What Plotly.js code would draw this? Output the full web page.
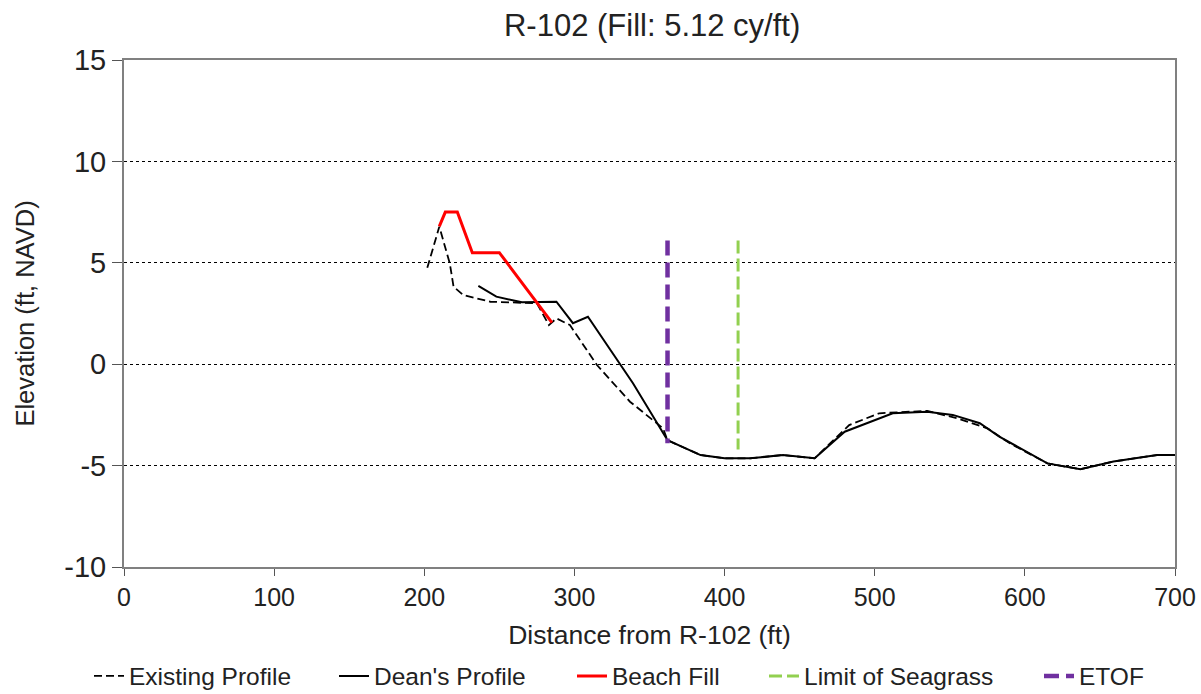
<!DOCTYPE html>
<html><head><meta charset="utf-8">
<script src="https://cdn.plot.ly/plotly-3.0.1.min.js"></script>
<style>body{margin:0;background:#fff}#chart{width:1201px;height:694px}</style>
</head><body><div id="chart"></div>
<script>
const existingX = [202,210,217,219.5,226,244,257,275,283,288,297,315,337,359,362,384,400,417,439,460,483,503,535,555,575,590,615,637,659,688,700];
const existingY = [4.75,6.78,4.97,3.82,3.41,3.08,3.05,3.0,1.93,2.26,1.93,-0.04,-1.85,-3.16,-3.75,-4.48,-4.64,-4.64,-4.48,-4.64,-3.0,-2.42,-2.3,-2.67,-3.16,-3.9,-4.89,-5.18,-4.8,-4.48,-4.48];
const deanX = [236,248,265,288,299,309,339,362,384,400,417,439,460,480,512,535,552,570,583,615,637,659,688,700];
const deanY = [3.86,3.33,3.05,3.08,2.02,2.34,-0.94,-3.75,-4.48,-4.64,-4.64,-4.48,-4.64,-3.33,-2.42,-2.34,-2.5,-2.91,-3.57,-4.89,-5.18,-4.8,-4.48,-4.48];
const fillX = [210,214,222,232,250,285];
const fillY = [6.8,7.5,7.5,5.5,5.5,2.05];
const seagrassX = [409,409];
const seagrassY = [6.1,-4.2];
const etofX = [362,362];
const etofY = [6.1,-3.9];
const xTicks = [0,100,200,300,400,500,600,700];
const yTicks = [-10,-5,0,5,10,15];

const traces = [
  {x: existingX, y: existingY, name: 'Existing Profile', legend: 'legend', mode: 'lines', line: {color: '#000', width: 1.8, dash: '8px,4px'}},
  {x: deanX, y: deanY, name: "Dean's Profile", legend: 'legend2', mode: 'lines', line: {color: '#000', width: 2}},
  {x: fillX, y: fillY, name: 'Beach Fill', legend: 'legend3', mode: 'lines', line: {color: '#ff0000', width: 3}},
  {x: seagrassX, y: seagrassY, name: 'Limit of Seagrass', legend: 'legend4', mode: 'lines', line: {color: '#92d050', width: 3, dash: '13px,5px'}},
  {x: etofX, y: etofY, name: 'ETOF', legend: 'legend5', mode: 'lines', line: {color: '#7030a0', width: 4.5, dash: '15px,7px'}}
];

function leg(px) {
  return {orientation: 'h', xref: 'container', x: px / 1201, xanchor: 'left', yref: 'container', y: 0.026, yanchor: 'middle',
          font: {size: 24.5, color: '#222'}, bgcolor: 'rgba(0,0,0,0)'};
}

const layout = {
  width: 1201, height: 694,
  margin: {l: 124, r: 26, t: 60, b: 127},
  paper_bgcolor: '#fff', plot_bgcolor: '#fff',
  font: {family: 'Liberation Sans, Arial, sans-serif', color: '#000'},
  title: {text: 'R-102 (Fill: 5.12 cy/ft)', font: {size: 31, color: '#222'}, x: 0.543, xanchor: 'center', yref: 'container', y: 0.964, yanchor: 'middle'},
  xaxis: {
    range: [0, 700], tickvals: xTicks, ticktext: xTicks.map(String),
    ticks: 'outside', ticklen: 7, tickcolor: '#555', tickfont: {size: 25, color: '#222'},
    showgrid: false, zeroline: false,
    showline: true, linecolor: '#808080', linewidth: 2, mirror: true,
    title: {text: 'Distance from R-102 (ft)', font: {size: 26.5, color: '#222'}, standoff: 15}
  },
  yaxis: {
    range: [-10, 15], tickvals: yTicks, ticktext: yTicks.map(String),
    ticks: 'outside', ticklen: 10, tickcolor: '#555', tickfont: {size: 29, color: '#222'},
    showgrid: true, gridcolor: '#000', griddash: 'dot', gridwidth: 1,
    zeroline: false,
    showline: true, linecolor: '#808080', linewidth: 2, mirror: true,
    title: {text: 'Elevation (ft, NAVD)', font: {size: 25.5, color: '#222'}, standoff: 22}
  },
  showlegend: true,
  legend: leg(89), legend2: leg(334), legend3: leg(572), legend4: leg(764), legend5: leg(1039)
};

Plotly.newPlot('chart', traces, layout, {displayModeBar: false, staticPlot: true});
</script></body></html>
